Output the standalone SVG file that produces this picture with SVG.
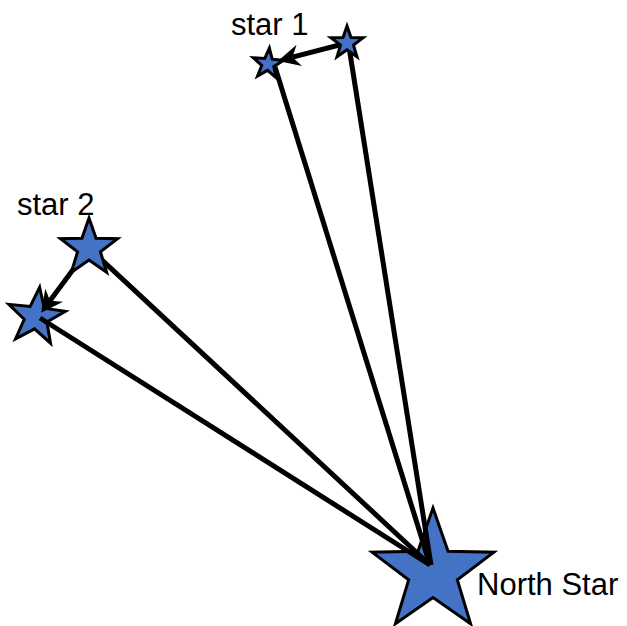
<svg xmlns="http://www.w3.org/2000/svg" xmlns:xlink="http://www.w3.org/1999/xlink" width="627" height="626" viewBox="0 0 627 626">
  <style>
    .star { fill: #4472C4; stroke: #000; stroke-width: 3; stroke-linejoin: miter; vector-effect: non-scaling-stroke; }
    .conn { stroke: #000; stroke-width: 5; fill: none; }
    .label { font-family: "Liberation Sans", Arial, sans-serif; font-size: 31px; fill: #000; }
  </style>
  <defs>
    <path id="starShape" class="star" d="M0,-1 L0.2351,-0.3236 L0.9511,-0.309 L0.3804,0.1236 L0.5878,0.809 L0,0.4 L-0.5878,0.809 L-0.3804,0.1236 L-0.9511,-0.309 L-0.2351,-0.3236 Z"/>
    <marker id="arrow" viewBox="0 0 22 22" markerUnits="userSpaceOnUse" markerWidth="22" markerHeight="22" refX="7" refY="11" orient="auto">
      <path d="M0,0 L22,11 L0,22 L7,11 Z" fill="#000"/>
    </marker>
  </defs>
  <rect width="627" height="626" fill="#fff"/>

  <g id="north-star">
    <use xlink:href="#starShape" href="#starShape" transform="translate(433,572) scale(64)"/>
    <text class="label" x="477" y="595">North Star</text>
  </g>
  <g id="star1">
    <use xlink:href="#starShape" href="#starShape" transform="translate(268,64) rotate(5) scale(16)"/>
    <text class="label" x="231" y="35">star 1</text>
  </g>
  <g id="star2-moved">
    <use xlink:href="#starShape" href="#starShape" transform="translate(36,317) rotate(7) scale(30)"/>
  </g>

  <g id="connectors">
    <line class="conn" x1="430" y1="565" x2="275" y2="67"/>
    <line class="conn" x1="431" y1="565" x2="349" y2="47"/>
    <line class="conn" x1="430" y1="565" x2="89" y2="248"/>
    <line class="conn" x1="430" y1="565" x2="40" y2="318"/>
    <line class="conn" x1="347" y1="43" x2="292.5" y2="57.2" marker-end="url(#arrow)"/>
    <line class="conn" x1="89" y1="248" x2="50" y2="300.8" marker-end="url(#arrow)"/>
  </g>

  <g id="star2">
    <use xlink:href="#starShape" href="#starShape" transform="translate(89,248) scale(30)"/>
    <text class="label" x="17" y="215">star 2</text>
  </g>
  <g id="star1-prev">
    <use xlink:href="#starShape" href="#starShape" transform="translate(347,43) scale(17)"/>
  </g>
</svg>
